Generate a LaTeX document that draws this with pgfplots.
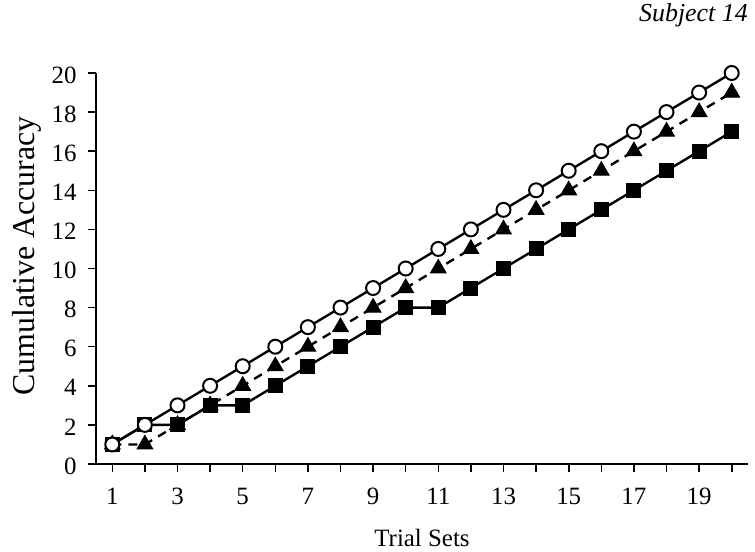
\documentclass[border=0pt]{standalone}
\usepackage{pgfplots}
\pgfplotsset{compat=1.18}
\usepackage{fontspec}
\setmainfont{Liberation Serif}
\begin{document}
\fontsize{25}{29}\selectfont
\begin{tikzpicture}
\path[use as bounding box] (-96bp,-88bp) rectangle (659bp,464bp);
\begin{axis}[
  at={(0,0)}, anchor=origin,
  scale only axis,
  width=652bp, height=391bp,
  xmin=0.5, xmax=20.5, ymin=0, ymax=20,
  axis lines=left,
  axis line style={-, line width=2pt},
  xtick={1,...,20},
  xticklabels={1,,3,,5,,7,,9,,11,,13,,15,,17,,19,},
  ytick={0,2,...,20},
  tick style={black, line width=1.6pt},
  tick align=outside,
  major tick length=8bp,
  /pgf/number format/assume math mode=true,
  ticklabel style={font=\fontsize{25}{29}\selectfont},
  xticklabel style={yshift=-8bp},
  yticklabel style={xshift=-3bp, yshift=-2bp},
  clip=false,
  xlabel={Trial Sets},
  ylabel={Cumulative Accuracy},
  xlabel style={font=\fontsize{25}{29}\selectfont, at={(axis description cs:0.5,0)}, anchor=center, yshift=-74bp},
  ylabel style={font=\fontsize{32}{36}\selectfont, at={(axis description cs:-0.106,0.532)}, anchor=center},
]
\addplot[black, line width=2.4pt, mark=square*, mark size=7bp, mark options={solid, fill=black, line width=1pt}] coordinates {
(1,1)(2,2)(3,2)(4,3)(5,3)(6,4)(7,5)(8,6)(9,7)(10,8)(11,8)(12,9)(13,10)(14,11)(15,12)(16,13)(17,14)(18,15)(19,16)(20,17)};
\addplot[black, line width=2.4pt, dash pattern=on 9bp off 7bp, mark=triangle*, mark size=9bp, mark options={solid, fill=black, line width=1pt}] coordinates {
(1,1)(2,1)(3,2)(4,3)(5,4)(6,5)(7,6)(8,7)(9,8)(10,9)(11,10)(12,11)(13,12)(14,13)(15,14)(16,15)(17,16)(18,17)(19,18)(20,19)};
\addplot[black, line width=2.4pt, mark=*, mark size=7bp, mark options={solid, fill=white, line width=2pt}] coordinates {
(1,1)(2,2)(3,3)(4,4)(5,5)(6,6)(7,7)(8,8)(9,9)(10,10)(11,11)(12,12)(13,13)(14,14)(15,15)(16,16)(17,17)(18,18)(19,19)(20,20)};
\node[anchor=east, inner sep=0pt, font=\fontsize{26}{30}\selectfont\itshape] at (652bp,449bp) {Subject 14};
\end{axis}
\end{tikzpicture}
\end{document}
